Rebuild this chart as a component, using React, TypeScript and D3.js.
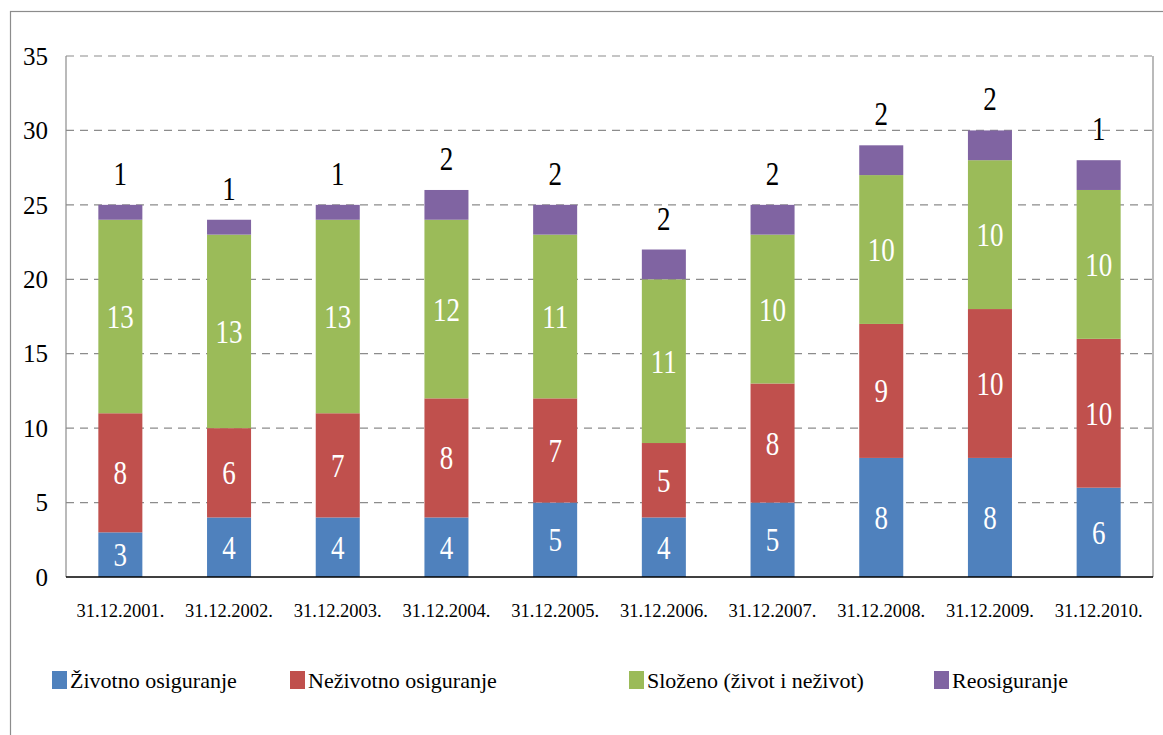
import React from 'react'
import { scaleBand, scaleLinear, stack } from 'd3'

const categories = ['31.12.2001.', '31.12.2002.', '31.12.2003.', '31.12.2004.', '31.12.2005.', '31.12.2006.', '31.12.2007.', '31.12.2008.', '31.12.2009.', '31.12.2010.']
const zivotno = [3, 4, 4, 4, 5, 4, 5, 8, 8, 6]
const nezivotno = [8, 6, 7, 8, 7, 5, 8, 9, 10, 10]
const slozeno = [13, 13, 13, 12, 11, 11, 10, 10, 10, 10]
const reosiguranje = [1, 1, 1, 2, 2, 2, 2, 2, 2, 2]
// the label of the last reinsurance bar reads 1 in the source
const reoLabels = [1, 1, 1, 2, 2, 2, 2, 2, 2, 1]
const yTicks = [0, 5, 10, 15, 20, 25, 30, 35]

const series = [
  { key: 'zivotno', name: 'Životno osiguranje', color: '#4F81BD', values: zivotno },
  { key: 'nezivotno', name: 'Neživotno osiguranje', color: '#C0504D', values: nezivotno },
  { key: 'slozeno', name: 'Složeno (život i neživot)', color: '#9BBB59', values: slozeno },
  { key: 'reo', name: 'Reosiguranje', color: '#8064A2', values: reosiguranje },
]

const legendX = [52, 290, 629, 934]

const rows = categories.map((c, i) => {
  const r: { [k: string]: any } = { cat: c }
  series.forEach(s => { r[s.key] = s.values[i] })
  return r
})

const W = 1163
const H = 735
const plot = { left: 66, top: 56, right: 1153, bottom: 577 }
const font = "'Liberation Serif', 'DejaVu Serif', serif"

export default function App() {
  const x = scaleBand().domain(categories).range([plot.left, plot.right])
  const y = scaleLinear().domain([0, 35]).range([plot.bottom, plot.top])
  const barW = x.bandwidth() * 0.405
  const layers = stack().keys(series.map(s => s.key))(rows as any)

  return (
    <div style={{ position: 'absolute', left: 0, top: 0 }}>
      <svg width={W} height={H} style={{ display: 'block' }}>
        <rect x={0} y={0} width={W} height={H} fill='#fff' />
        <rect x={10.5} y={11.5} width={W + 10} height={H + 10} fill='none' stroke='#8c8c8c' strokeWidth={1.2} />

        {yTicks.filter(t => t > 0).map(t => (
          <line key={t} x1={plot.left} x2={plot.right} y1={y(t)} y2={y(t)} stroke='#8c8c8c' strokeWidth={1.2} strokeDasharray='8,6' />
        ))}
        <line x1={plot.left} x2={plot.left} y1={plot.top} y2={plot.bottom} stroke='#8c8c8c' strokeWidth={1.2} />
        <line x1={plot.right} x2={plot.right} y1={plot.top} y2={plot.bottom} stroke='#8c8c8c' strokeWidth={1.2} />

        {yTicks.map(t => (
          <text key={t} x={48} y={y(t)} dy='0.35em' textAnchor='end' fontSize={25} fontFamily={font} fill='#000'>{t}</text>
        ))}

        {layers.map((layer, li) => (
          <g key={layer.key} fill={series[li].color}>
            {layer.map((d, i) => {
              const cx = (x(categories[i]) ?? 0) + x.bandwidth() / 2
              return <rect key={i} x={cx - barW / 2} y={y(d[1])} width={barW} height={y(d[0]) - y(d[1])} />
            })}
          </g>
        ))}

        {layers.slice(0, 3).map(layer => (
          <g key={layer.key + '-lbl'}>
            {layer.map((d, i) => {
              const cx = (x(categories[i]) ?? 0) + x.bandwidth() / 2
              const cy = (y(d[0]) + y(d[1])) / 2
              return (
                <text key={i} transform={`translate(${cx},${cy}) scale(0.82,1)`} dy='0.35em' textAnchor='middle' fontSize={33} fontFamily={font} fill='#fff'>
                  {d[1] - d[0]}
                </text>
              )
            })}
          </g>
        ))}
        {layers[3].map((d, i) => {
          const cx = (x(categories[i]) ?? 0) + x.bandwidth() / 2
          return (
            <text key={i} transform={`translate(${cx},${y(d[1]) - 20}) scale(0.82,1)`} textAnchor='middle' fontSize={33} fontFamily={font} fill='#000'>
              {reoLabels[i]}
            </text>
          )
        })}

        <line x1={plot.left} x2={plot.right} y1={plot.bottom} y2={plot.bottom} stroke='#000' strokeWidth={1.5} />

        {categories.map(c => (
          <text key={c} x={(x(c) ?? 0) + x.bandwidth() / 2} y={617} textAnchor='middle' fontSize={18.5} fontFamily={font} fill='#000'>{c}</text>
        ))}

        {series.map((s, i) => (
          <g key={s.key} transform={`translate(${legendX[i]},0)`}>
            <rect x={0} y={671} width={15} height={18} fill={s.color} />
            <text x={18} y={688} fontSize={22} fontFamily={font} fill='#000'>{s.name}</text>
          </g>
        ))}
      </svg>
    </div>
  )
}
